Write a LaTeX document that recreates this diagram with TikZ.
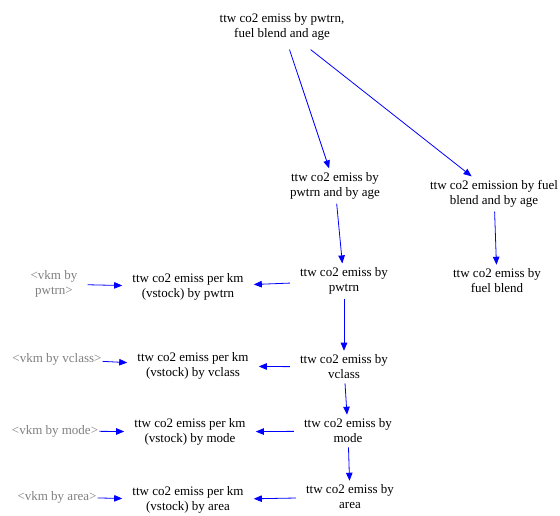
\documentclass[tikz,border=0pt]{standalone}
\usepackage{fontspec}
\setmainfont{Liberation Serif}
\usetikzlibrary{arrows.meta}
\definecolor{linkblue}{RGB}{0,0,255}
\definecolor{shadowgray}{RGB}{128,128,128}
\tikzset{
  var/.style={align=center, inner xsep=10pt, inner ysep=4pt, font=\fontsize{13}{15}\selectfont},
  shadow/.style={var, text=shadowgray},
  tight/.style={inner xsep=1pt},
  link/.style={draw=linkblue, line width=0.8pt, -{Triangle[length=8pt,width=6.5pt]}},
}
\begin{document}
\begin{tikzpicture}[x=1pt,y=-1pt]
\path[use as bounding box, fill=white] (0,0) rectangle (560,515);
\node[var, inner ysep=9pt] (top) at (282,27) {ttw co2 emiss by pwtrn,\\fuel blend and age};
\node[var] (a) at (335,186) {ttw co2 emiss by\\pwtrn and by age};
\node[var] (b) at (494,194) {ttw co2 emission by fuel\\blend and by age};
\node[var] (c) at (497,281) {ttw co2 emiss by\\fuel blend};
\node[var] (d) at (344,281) {ttw co2 emiss by\\pwtrn};
\node[var] (e) at (188,287) {ttw co2 emiss per km\\(vstock) by pwtrn};
\node[shadow] (vp) at (54,284) {<vkm by\\pwtrn>};
\node[var] (v) at (344,367) {ttw co2 emiss by\\vclass};
\node[var] (ev) at (193,366) {ttw co2 emiss per km\\(vstock) by vclass};
\node[shadow, tight] (vv) at (57,359) {<vkm by vclass>};
\node[var] (m) at (348,431) {ttw co2 emiss by\\mode};
\node[var] (em) at (190,432) {ttw co2 emiss per km\\(vstock) by mode};
\node[shadow, tight] (vm) at (55,431) {<vkm by mode>};
\node[var] (r) at (350,497) {ttw co2 emiss by\\area};
\node[var] (er) at (188,500) {ttw co2 emiss per km\\(vstock) by area};
\node[shadow, tight] (va) at (57,497) {<vkm by area>};
\draw[link] (top) -- (a);
\draw[link] (top) -- (b);
\draw[link] (a) -- (d);
\draw[link] (b) -- (c);
\draw[link] (d) -- (e);
\draw[link] (vp) -- (e);
\draw[link] (d) -- (v);
\draw[link] (v) -- (ev);
\draw[link] (vv) -- (ev);
\draw[link] (v) -- (m);
\draw[link] (m) -- (em);
\draw[link] (vm) -- (em);
\draw[link] (m) -- (r);
\draw[link] (r) -- (er);
\draw[link] (va) -- (er);
\end{tikzpicture}
\end{document}
